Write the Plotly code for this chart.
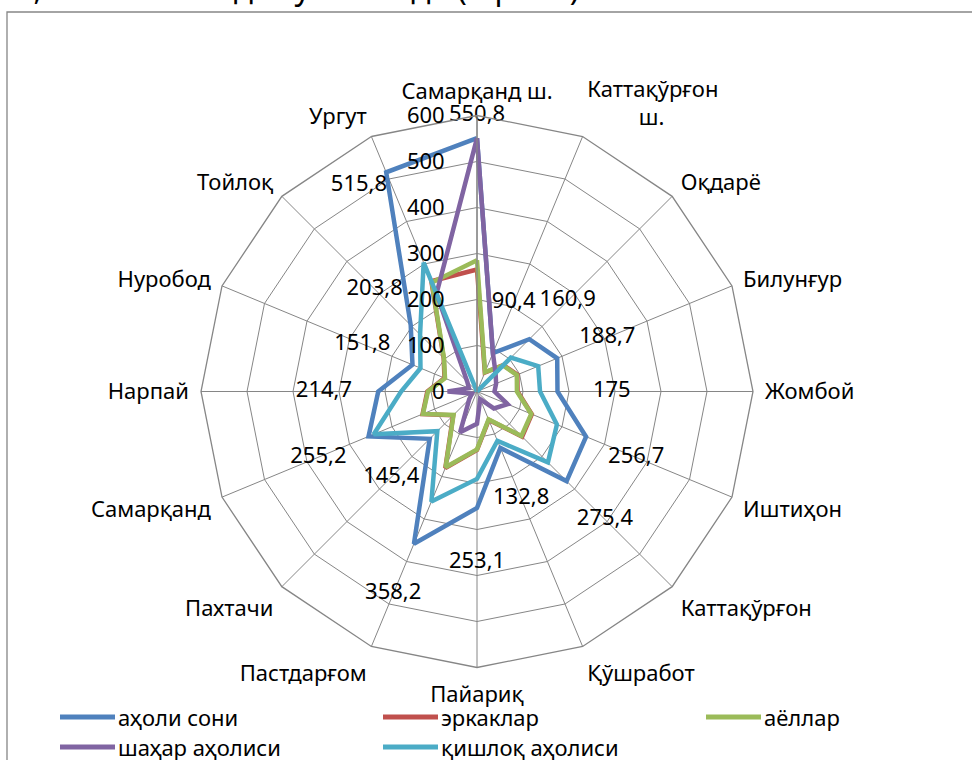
import plotly.graph_objects as go

# ---------------- data ----------------
categories = ["Самарқанд ш.", "Каттақўрғон ш.", "Оқдарё", "Билунғур", "Жомбой", "Иштиҳон",
              "Каттақўрғон", "Қўшработ", "Пайариқ", "Пастдарғом", "Пахтачи", "Самарқанд",
              "Нарпай", "Нуробод", "Тойлоқ", "Ургут"]
tick_labels = ["Самарқанд ш.", "Каттақўрғон<br>" + "\u00a0" * 9 + "ш.", "Оқдарё", "Билунғур",
               "Жомбой", "Иштиҳон", "Каттақўрғон", "Қўшработ", "Пайариқ", "Пастдарғом",
               "Пахтачи", "Самарқанд", "Нарпай", "Нуробод", "Тойлоқ", "Ургут"]

aholi_soni = [550.8, 90.4, 160.9, 188.7, 175.0, 256.7, 275.4, 132.8, 253.1, 358.2, 145.4, 255.2,
              214.7, 151.8, 203.8, 515.8]
erkaklar = [265.3, 44.6, 81.0, 95.0, 88.2, 129.0, 138.8, 67.0, 127.3, 180.0, 73.2, 128.0,
            108.0, 76.5, 102.5, 259.4]
ayollar = [285.5, 45.8, 79.9, 93.7, 86.8, 127.7, 136.6, 65.8, 125.8, 178.2, 72.2, 127.2,
           106.7, 75.3, 101.3, 256.4]
shahar = [550.8, 90.4, 57.0, 45.0, 38.0, 72.0, 52.0, 18.0, 70.0, 96.0, 24.0, 12.0,
          64.0, 19.0, 30.0, 230.0]
qishloq = [0.0, 0.0, 104.0, 144.0, 137.0, 188.0, 218.0, 116.0, 190.0, 259.0, 122.0, 243.0,
           165.0, 133.0, 175.0, 303.0]

series_names = ["аҳоли сони", "эркаклар", "аёллар", "шаҳар аҳолиси", "қишлоқ аҳолиси"]
series_values = [aholi_soni, erkaklar, ayollar, shahar, qishloq]

radial_ticks = [0, 100, 200, 300, 400, 500, 600]

# ---------------- styles ----------------
colors = ["#4F81BD", "#C0504D", "#9BBB59", "#8064A2", "#4BACC6"]
FONT = "Noto Sans"
FS = 22
label_pad = [49.2, 118, 118, 118, 118, 118, 118, 118, 118, 118, 118, 118, 118, 118, 111, -5]
label_pos = ["middle center"] * 15 + ["bottom left"]

W, H = 972, 760
cx, cy, R = 477, 391.5, 276

fig = go.Figure()

for name, vals, col in zip(series_names, series_values, colors):
    fig.add_trace(go.Scatterpolar(
        r=vals + [vals[0]],
        theta=categories + [categories[0]],
        mode="lines",
        name=name,
        line=dict(color=col, width=4.5),
        showlegend=False,
        hoverinfo="skip",
    ))

# data labels of the first series
fig.add_trace(go.Scatterpolar(
    r=[min(v + p, 600) for v, p in zip(aholi_soni, label_pad)],
    theta=categories,
    mode="text",
    text=[f"{v:g}".replace(".", ",") for v in aholi_soni],
    textposition=label_pos,
    textfont=dict(family=FONT, size=FS, color="black"),
    cliponaxis=False,
    showlegend=False,
    hoverinfo="skip",
))

dom_x = [(cx - R) / W, (cx + R) / W]
dom_y = [1 - (cy + R) / H, 1 - (cy - R) / H]

fig.update_layout(
    width=W, height=H,
    margin=dict(l=0, r=0, t=0, b=0),
    paper_bgcolor="white",
    plot_bgcolor="white",
    font=dict(family=FONT, size=FS, color="black"),
    polar=dict(
        domain=dict(x=dom_x, y=dom_y),
        gridshape="linear",
        bgcolor="white",
        radialaxis=dict(
            range=[0, 600],
            tickvals=radial_ticks,
            ticktext=[str(t) for t in radial_ticks],
            angle=90,
            tickangle=90,
            side="counterclockwise",
            showline=True,
            linecolor="#868686",
            linewidth=1.3,
            gridcolor="#868686",
            gridwidth=1.3,
            ticks="outside",
            ticklen=24,
            tickcolor="rgba(0,0,0,0)",
            tickfont=dict(family=FONT, size=FS, color="black"),
        ),
        angularaxis=dict(
            rotation=90,
            direction="clockwise",
            tickmode="array",
            tickvals=categories,
            ticktext=tick_labels,
            showline=True,
            linecolor="#868686",
            linewidth=1.3,
            gridcolor="#868686",
            gridwidth=1.3,
            ticks="outside",
            ticklen=7,
            tickcolor="rgba(0,0,0,0)",
            tickfont=dict(family=FONT, size=FS, color="black"),
        ),
    ),
)

# manual legend
legend_x = [60, 383, 706, 60, 383]
legend_y = [717, 717, 717, 747, 747]
for name, col, lx, ly in zip(series_names, colors, legend_x, legend_y):
    fig.add_shape(type="line", xref="paper", yref="paper",
                  x0=lx / W, x1=(lx + 55) / W, y0=1 - ly / H, y1=1 - ly / H,
                  line=dict(color=col, width=5))
    fig.add_annotation(xref="paper", yref="paper", x=(lx + 56) / W, y=1 - ly / H,
                       text=name, showarrow=False, xanchor="left", yanchor="middle",
                       font=dict(family=FONT, size=FS, color="black"))

# chart frame
fig.add_shape(type="rect", xref="paper", yref="paper",
              x0=7 / W, x1=1.02, y0=-0.02, y1=1 - 12 / H,
              line=dict(color="#868686", width=1.3), fillcolor="rgba(0,0,0,0)", layer="below")

# clipped document text above the chart
fig.add_annotation(xref="paper", yref="paper", x=-4 / W, y=1 + 12 / H,
                   text="52,3 минг кишида кузатилади (1-расм).", showarrow=False,
                   xanchor="left", yanchor="middle",
                   font=dict(family=FONT, size=31, color="black"))

fig.write_html("out.html", config={"displayModeBar": False},
               post_script="document.body.style.margin='0px';document.body.style.overflow='hidden';")
